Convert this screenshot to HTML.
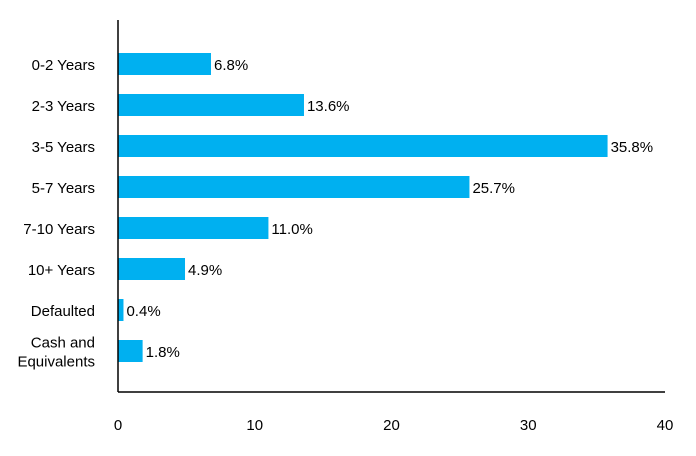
<!DOCTYPE html>
<html><head><meta charset="utf-8"><style>
body{margin:0;background:#fff;}
svg{display:block;font-family:"Liberation Sans",sans-serif;}
</style></head><body>
<svg id="chart" width="696" height="456"></svg>
<script>
const categories=["0-2 Years","2-3 Years","3-5 Years","5-7 Years","7-10 Years","10+ Years","Defaulted","Cash and|Equivalents"];
const values=[6.8,13.6,35.8,25.7,11.0,4.9,0.4,1.8];
const valueLabels=["6.8%","13.6%","35.8%","25.7%","11.0%","4.9%","0.4%","1.8%"];
const xTicks=[0,10,20,30,40];
const ns="http://www.w3.org/2000/svg";
const svg=document.getElementById("chart");
const x0=118,x1=665,xMax=40;
function xs(v){return x0+(x1-x0)*v/xMax;}
function ys(i){return 64+i*41;}
function mk(tag,attrs,text){const e=document.createElementNS(ns,tag);for(const k in attrs)e.setAttribute(k,attrs[k]);if(text!==undefined)e.textContent=text;svg.appendChild(e);return e;}
categories.forEach((c,i)=>{
  const b=mk("rect",{x:x0,y:ys(i)-11,width:xs(values[i])-x0,height:22,fill:"#00b0f0"});
  
  
  const v=mk("text",{x:xs(values[i])+3,y:ys(i)+6,"font-size":15,fill:"#000"},valueLabels[i]);
  
  
  const parts=c.split("|");
  parts.forEach((p,j)=>{
    const yy=ys(i)+6+(j-(parts.length-1)/2)*19;
    const t=mk("text",{x:95,y:yy,"font-size":15,"text-anchor":"end",fill:"#000"},p);
    
    
  });
});
const ya=mk("line",{x1:x0,y1:20,x2:x0,y2:392,stroke:"#000","stroke-width":1.5});


const xa=mk("line",{x1:x0,y1:392,x2:x1,y2:392,stroke:"#000","stroke-width":1.5});


xTicks.forEach(t=>{
  const e=mk("text",{x:xs(t),y:430,"font-size":15,"text-anchor":"middle",fill:"#000"},String(t));
  
  
});
</script>
</body></html>
